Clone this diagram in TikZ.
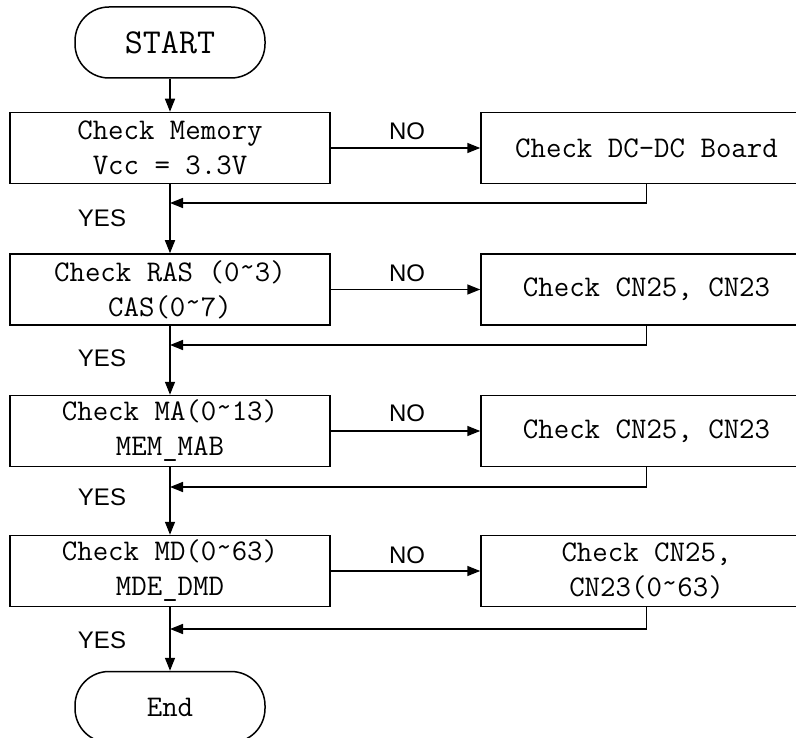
\documentclass[tikz,border=0pt]{standalone}
\usepackage{fontspec}
\usetikzlibrary{arrows.meta}
\newfontfamily\sansf{Liberation Sans}
\newcommand{\tld}{\raisebox{0.35ex}{\textasciitilde}}

\begin{document}
\begin{tikzpicture}[x=1pt, y=-1pt, line width=1.5pt,
	proc/.style = {draw, rectangle, minimum width=320pt, minimum height=71pt, inner sep=0pt, align=center, font=\ttfamily\fontsize{30}{35}\selectfont},
	fix/.style = {proc, minimum width=331pt},
	term/.style = {draw, rectangle, rounded corners=34pt, minimum width=190pt, minimum height=71pt, inner sep=0pt, font=\ttfamily\fontsize{30}{35}\selectfont},
	lbl/.style = {inner sep=0pt, font=\sansf\fontsize{24}{28}\selectfont},
	arr/.style = {-{Triangle[length=13pt,width=10pt]}}]

	\clip (0,0) rectangle (796,738);
	
	\node [term] (start) at (170,42.5) {\fontsize{35}{35}\selectfont START};
	\node [proc] (mem) at (170,148) {Check Memory\\Vcc = 3.3V};
	\node [proc] (ras) at (170,289.5) {Check RAS (0\tld3)\\CAS(0\tld7)};
	\node [proc] (ma) at (170,431) {Check MA(0\tld13)\\MEM\_MAB};
	\node [proc] (md) at (170,571) {Check MD(0\tld63)\\MDE\_DMD};
	\node [term] (end) at (170,707) {End};

	\node [fix] (dcdc) at (646.5,148) {Check DC-DC Board};
	\node [fix] (cnA) at (646.5,289.5) {Check CN25, CN23};
	\node [fix] (cnB) at (646.5,431) {Check CN25, CN23};
	\node [fix] (cnC) at (646.5,571) {Check CN25,\\CN23(0\tld63)};

	% main line
	\draw [arr] (start) -- (mem);
	\draw [arr] (mem) -- (ras);
	\draw [arr] (ras) -- (ma);
	\draw [arr] (ma) -- (md);
	\draw [arr] (md) -- (end);

	% NO branches
	\draw [arr] (mem) -- (dcdc);
	\draw [arr] (ras) -- (cnA);
	\draw [arr] (ma) -- (cnB);
	\draw [arr] (md) -- (cnC);
	\node [lbl] (no1) at (407,131) {NO};
	\node [lbl] (no2) at (407,273) {NO};
	\node [lbl] (no3) at (407,413) {NO};
	\node [lbl] (no4) at (407,555) {NO};

	% back to the main line
	\coordinate (j1) at (170,203);
	\coordinate (j2) at (170,345);
	\coordinate (j3) at (170,487);
	\coordinate (j4) at (170,629);
	\draw [arr] (dcdc.south) |- (j1);
	\draw [arr] (cnA.south) |- (j2);
	\draw [arr] (cnB.south) |- (j3);
	\draw [arr] (cnC.south) |- (j4);
	\node [lbl] (yes1) at (102,218) {YES};
	\node [lbl] (yes2) at (102,358) {YES};
	\node [lbl] (yes3) at (102,497) {YES};
	\node [lbl] (yes4) at (102,640) {YES};

\end{tikzpicture}
\end{document}
